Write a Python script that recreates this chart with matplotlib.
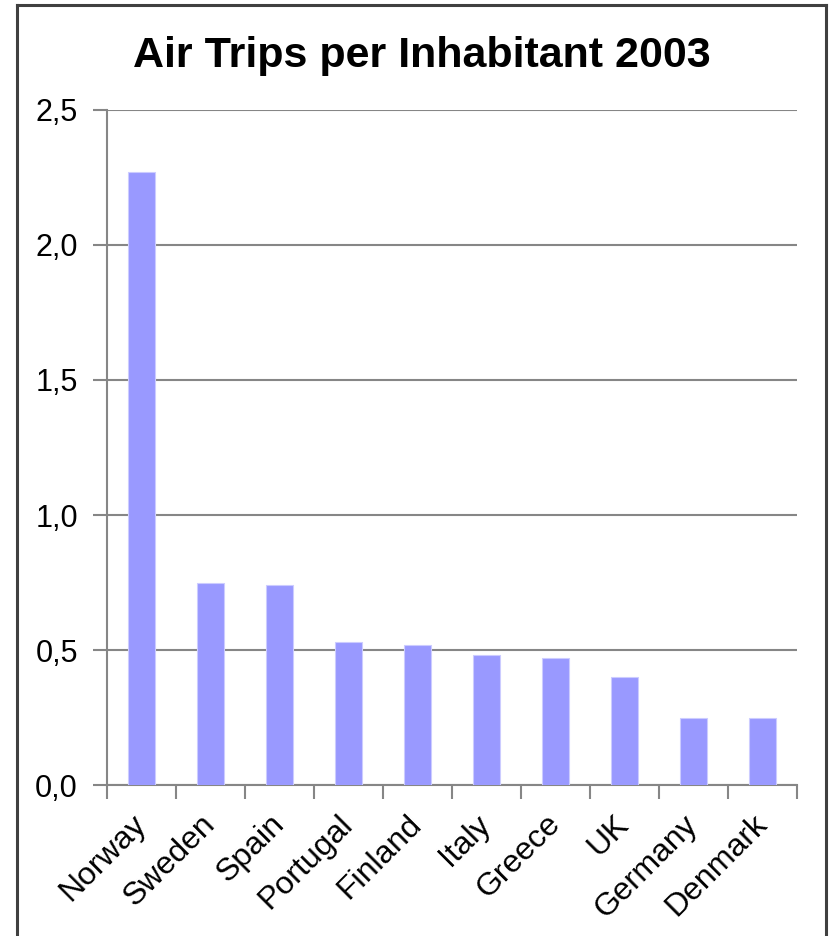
import matplotlib.pyplot as plt
from matplotlib.lines import Line2D
from matplotlib.ticker import FuncFormatter
import numpy as np

# Datos
countries = ['Norway', 'Sweden', 'Spain', 'Portugal', 'Finland',
             'Italy', 'Greece', 'UK', 'Germany', 'Denmark']
trips = [2.27, 0.75, 0.74, 0.53, 0.52, 0.48, 0.47, 0.40, 0.25, 0.25]
y_ticks = [0.0, 0.5, 1.0, 1.5, 2.0, 2.5]

plt.rcParams['font.family'] = ['Liberation Sans', 'DejaVu Sans']

fig = plt.figure(figsize=(8.3, 9.36), dpi=100)
ax = fig.add_axes([0.129, 0.1613, 0.831, 0.7212])

x = np.arange(len(countries))
ax.bar(x, trips, width=0.4, color='#9999ff', edgecolor='#ccccff', linewidth=0.8, zorder=3)

ax.set_xlim(-0.5, len(countries) - 0.5)
ax.set_ylim(0, 2.5)
ax.set_yticks(y_ticks)
ax.yaxis.set_major_formatter(FuncFormatter(lambda v, p: f'{v:.1f}'.replace('.', ',')))
ax.grid(axis='y', color='#868686', linewidth=1.5, zorder=0)

# ticks between categories
ax.set_xticks(np.arange(-0.5, len(countries), 1.0))
ax.set_xticklabels([])
ax.set_xticks(x, minor=True)
ax.set_xticklabels(countries, minor=True, rotation=45, ha='right', va='center',
                   rotation_mode='anchor', fontsize=23)
ax.tick_params(axis='x', which='minor', length=0, pad=25)
ax.tick_params(axis='x', which='major', length=10, width=1.5, color='#868686')
ax.tick_params(axis='y', length=10, width=1.5, color='#868686', labelsize=22, pad=11)

for s in ['top', 'right']:
    ax.spines[s].set_visible(False)
for s in ['left', 'bottom']:
    ax.spines[s].set_color('#868686')
    ax.spines[s].set_linewidth(1.5)

fig.text(0.508, 0.94, 'Air Trips per Inhabitant 2003', ha='center', va='center',
         fontsize=31, fontweight='bold')

# marco
fx0, fy1, fx1 = 17 / 830, 1 - 5 / 936, 826 / 830
fig.add_artist(Line2D([fx0, fx0], [0, fy1], color='#404040', lw=2.2))
fig.add_artist(Line2D([fx0, fx1], [fy1, fy1], color='#404040', lw=2.2))
fig.add_artist(Line2D([fx1, fx1], [0, fy1], color='#404040', lw=2.2))

fig.savefig('out.png', dpi=100)
